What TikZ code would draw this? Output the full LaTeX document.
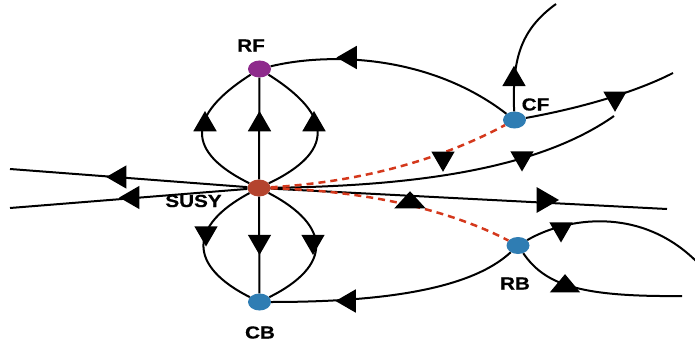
\documentclass[tikz,border=0pt]{standalone}
\usepackage{fontspec}
\newfontfamily\lblfont{Liberation Sans}[FakeStretch=1.18,FakeBold=0.6]
\usepackage{tikz}
\usetikzlibrary{shapes.geometric}
\definecolor{rfcol}{HTML}{8E2A8C}
\definecolor{susycol}{HTML}{B4442E}
\definecolor{bcol}{HTML}{2F7DB3}
\definecolor{dashred}{HTML}{D4381C}
\tikzset{
  fline/.style={line width=2pt},
  sline/.style={line width=2.5pt,draw=dashred,dash pattern=on 7pt off 5pt}, % red dashed
  vtx/.style={ellipse,minimum width=23pt,minimum height=17pt,inner sep=0pt},
  tri/.style={regular polygon,regular polygon sides=3,fill=black,inner sep=0pt,minimum size=27pt},
  lbl/.style={font=\lblfont\bfseries\fontsize{17.5}{20}\selectfont,inner sep=0pt},
}

\begin{document}
\begin{tikzpicture}[x=1pt,y=-1pt]
  \useasboundingbox (0,0) rectangle (695,342);
  % vertices
  \node[vtx,fill=rfcol] (RF) at (259.5,69) {};
  \node[vtx,fill=susycol] (SUSY) at (259,188) {};
  \node[vtx,fill=bcol] (CB) at (259.5,302) {};
  \node[vtx,fill=bcol] (CF) at (514.5,120) {};
  \node[vtx,fill=bcol] (RB) at (518,245.5) {};
  \node[lbl] (tRF) at (251,45.5) {RF};
  \node[lbl] (tSUSY) at (193.5,201) {SUSY};
  \node[lbl] (tCB) at (260,332.5) {CB};
  \node[lbl] (tCF) at (535.5,104.5) {CF};
  \node[lbl] (tRB) at (515,283.5) {RB};
  % free ends
  \coordinate (eL1) at (10,169);
  \coordinate (eL2) at (10,208);
  \coordinate (eR) at (667,209);
  \coordinate (eU) at (614,116);
  \coordinate (eCF1) at (556,4);
  \coordinate (eCF2) at (673,73);
  \coordinate (eRB1) at (697,262);
  \coordinate (eRB2) at (682,296);
  % RF -- SUSY -- CB
  \draw[fline] (RF) -- (SUSY) -- (CB);
  \draw[fline] (RF) .. controls (186,116) and (186,152) .. (SUSY);
  \draw[fline] (RF) .. controls (334,116) and (334,152) .. (SUSY);
  \draw[fline] (SUSY) .. controls (188,226) and (188,266) .. (CB);
  \draw[fline] (SUSY) .. controls (332,226) and (332,266) .. (CB);
  % outer lines
  \draw[fline] (RF) .. controls (330,52) and (430,55) .. (CF);
  \draw[fline] (CB) .. controls (380,302) and (470,290) .. (RB);
  \draw[fline] (CF) .. controls (512,60) and (520,30) .. (eCF1);
  \draw[fline] (CF) .. controls (570,110) and (630,95) .. (eCF2);
  \draw[fline] (RB) .. controls (565,218) and (640,205) .. (eRB1);
  \draw[fline] (RB) .. controls (545,285) and (580,297) .. (eRB2);
  \draw[fline] (SUSY) -- (eL1);
  \draw[fline] (SUSY) -- (eL2);
  \draw[fline] (SUSY) -- (eR);
  \draw[fline] (SUSY) .. controls (420,186) and (540,168) .. (eU);
  % dashed links
  \draw[sline] (SUSY) .. controls (360,182) and (440,160) .. (CF);
  \draw[sline] (SUSY) .. controls (350,190) and (440,205) .. (RB);
  % arrowheads
  \foreach \x in {205,259.5,314}
    \node[tri] at (\x,124.5) {};
  \node[tri,rotate=180] at (206,233) {};
  \node[tri,rotate=180] at (259.5,241.5) {};
  \node[tri,rotate=180] at (313,241.5) {};
  \node[tri,rotate=90] at (350,57.5) {};
  \node[tri,rotate=90] at (349,301) {};
  \node[tri] at (514,79.3) {};
  \node[tri,rotate=180] at (615,98.3) {};
  \node[tri,rotate=180] at (522,158) {};
  \node[tri,rotate=180] at (443,158.3) {};
  \node[tri,xscale=1.35,yscale=0.85] at (410,202.7) {};
  \node[tri,rotate=-90,minimum size=30pt] at (544,200) {};
  \node[tri,rotate=90] at (119.7,177) {};
  \node[tri,rotate=90] at (132.7,197.5) {};
  \node[tri,rotate=180] at (561,229) {};
  \node[tri,xscale=1.3,yscale=0.9] at (565,286.3) {};
\end{tikzpicture}
\end{document}
